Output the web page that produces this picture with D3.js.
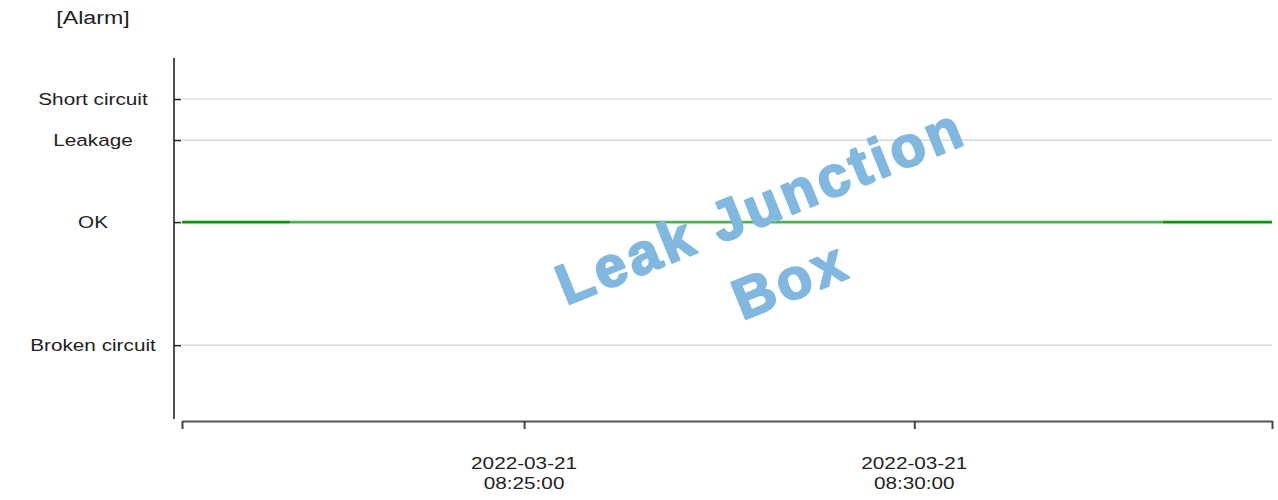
<!DOCTYPE html>
<html>
<head>
<meta charset="utf-8">
<script src="https://cdn.jsdelivr.net/npm/d3@7"></script>
<style>
  html, body { margin: 0; padding: 0; background: #fff; }
  svg { display: block; }
  text { font-family: "Liberation Sans", Arial, sans-serif; fill: #222; }
</style>
</head>
<body>
<svg id="chart" width="1278" height="500"></svg>
<script>
// ---- data ----
const states = ["Broken circuit", "OK", "Leakage", "Short circuit"];
const stateValues = [1, 4, 6, 7];
const xTickTimes = ["2022-03-21 08:25:00", "2022-03-21 08:30:00"];
const timeDomain = ["2022-03-21 08:20:37", "2022-03-21 08:34:35"];
const seriesTimes = ["2022-03-21 08:20:37", "2022-03-21 08:22:00", "2022-03-21 08:33:11", "2022-03-21 08:34:35"];
const seriesStates = ["OK", "OK", "OK", "OK"];
const segmentFaded = [false, true, false];
const yAxisTitle = "[Alarm]";
const watermark = ["Leak Junction", "Box"];

// ---- setup ----
const parse = d3.timeParse("%Y-%m-%d %H:%M:%S");
const svg = d3.select("#chart");
const m = { left: 182, right: 1272, top: 58, bottom: 419 };
const SX = 1.22; // horizontal stretch of the reference's text

const x = d3.scaleTime().domain(timeDomain.map(parse)).range([m.left, m.right]);
const y = d3.scaleLinear().domain([-0.8, 8]).range([m.bottom, m.top]);
const valueOf = s => stateValues[states.indexOf(s)];

// gridlines
svg.append("g").selectAll("line").data(states).join("line")
  .attr("x1", m.left).attr("x2", m.right)
  .attr("y1", d => y(valueOf(d))).attr("y2", d => y(valueOf(d)))
  .attr("stroke", "#cfcfcf").attr("stroke-width", 1.2);

// y axis
const yAxis = d3.axisRight(y).tickValues(stateValues).tickSize(7).tickFormat("");
const gy = svg.append("g").attr("transform", "translate(174,0)").call(yAxis);
gy.select(".domain").remove();
gy.selectAll(".tick line").attr("stroke", "#222").attr("stroke-width", 1.5);
svg.append("line").attr("x1", 174).attr("x2", 174).attr("y1", m.top).attr("y2", m.bottom)
  .attr("stroke", "#222").attr("stroke-width", 1.6);

svg.append("g").selectAll("text").data(states).join("text")
  .attr("transform", d => `translate(93,${y(valueOf(d))}) scale(${SX},1)`)
  .attr("dy", "0.35em").attr("text-anchor", "middle")
  .attr("font-size", 17).text(d => d);

svg.append("text").attr("transform", `translate(93,24) scale(${SX},1)`).attr("text-anchor", "middle")
  .attr("font-size", 19).text(yAxisTitle);

// x axis
const xAxis = d3.axisBottom(x)
  .tickValues([x.domain()[0], ...xTickTimes.map(parse), x.domain()[1]])
  .tickSize(8).tickSizeOuter(0).tickFormat("");
const gx = svg.append("g").attr("transform", "translate(0,421)").call(xAxis);
gx.select(".domain").attr("stroke", "#555").attr("stroke-width", 2);
gx.selectAll(".tick line").attr("stroke", "#444").attr("stroke-width", 2);

const fmtD = d3.timeFormat("%Y-%m-%d"), fmtT = d3.timeFormat("%H:%M:%S");
const lbl = svg.append("g").selectAll("text").data(xTickTimes.map(parse)).join("text")
  .attr("text-anchor", "middle").attr("font-size", 17)
  .attr("transform", d => `translate(${x(d)},0) scale(${SX},1)`);
lbl.append("tspan").attr("x", 0).attr("y", 469).text(d => fmtD(d));
lbl.append("tspan").attr("x", 0).attr("y", 489).text(d => fmtT(d));

// series line
const pts = seriesTimes.map((t, i) => ({ t: parse(t), v: valueOf(seriesStates[i]) }));
const segs = d3.pairs(pts).map((p, i) => ({ p, faded: segmentFaded[i] }));
const line = d3.line().x(d => x(d.t)).y(d => y(d.v));
svg.append("g").selectAll("path").data(segs).join("path")
  .attr("d", d => line(d.p))
  .attr("fill", "none")
  .attr("stroke", "#0a960a")
  .attr("stroke-opacity", d => d.faded ? 0.68 : 1)
  .attr("stroke-width", 2.8);

// watermark
const wm = svg.append("g").attr("transform", "translate(768,224) rotate(-22)");
wm.selectAll("text").data(watermark).join("text")
  .attr("x", 0).attr("y", (d, i) => i * 80)
  .attr("text-anchor", "middle")
  .attr("font-family", "'Open Sans', sans-serif")
  .attr("font-weight", 800)
  .attr("font-size", 57)
  .attr("letter-spacing", 4)
  .style("fill", "#80b8e0")
  .style("stroke", "#80b8e0")
  .style("stroke-width", 2.2)
  .style("stroke-linejoin", "round")
  .text(d => d);
</script>
</body>
</html>
